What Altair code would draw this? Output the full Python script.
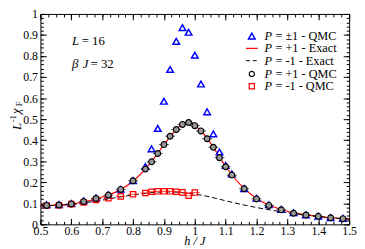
import altair as alt
import pandas as pd

# ---- data ----
h_circ = [0.52, 0.56, 0.60, 0.64, 0.68, 0.72, 0.76, 0.80, 0.84, 0.86, 0.88, 0.90,
          0.92, 0.94, 0.96, 0.98, 1.00, 1.02, 1.04, 1.06, 1.08, 1.10, 1.12, 1.16,
          1.20, 1.24, 1.28, 1.32, 1.36, 1.40, 1.44, 1.48]
chi_p1_qmc = [0.090, 0.092, 0.097, 0.108, 0.123, 0.139, 0.166, 0.207, 0.263, 0.297, 0.337, 0.379,
              0.419, 0.451, 0.475, 0.484, 0.469, 0.444, 0.407, 0.366, 0.317, 0.274, 0.234, 0.169,
              0.121, 0.090, 0.069, 0.053, 0.044, 0.038, 0.031, 0.027]

h_tri = h_circ
chi_all_qmc = [0.093, 0.094, 0.099, 0.112, 0.126, 0.140, 0.167, 0.208, 0.275, 0.359, 0.456, 0.585,
               0.736, 0.870, 0.935, 0.913, 0.804, 0.667, 0.535, 0.430, 0.344, 0.280, 0.240, 0.170,
               0.124, 0.093, 0.071, 0.055, 0.045, 0.039, 0.032, 0.028]

h_sq = [0.52, 0.56, 0.60, 0.64, 0.68, 0.72, 0.76, 0.80, 0.84, 0.86, 0.88, 0.90,
        0.92, 0.94, 0.96, 0.98, 1.00]
chi_m1_qmc = [0.090, 0.091, 0.096, 0.104, 0.116, 0.124, 0.133, 0.143, 0.149, 0.155, 0.157, 0.157,
              0.157, 0.155, 0.152, 0.136, 0.151]

h_exact = [0.50, 0.55, 0.60, 0.65, 0.70, 0.75, 0.80, 0.85, 0.90, 0.93, 0.95, 0.97, 0.98,
           0.99, 1.00, 1.02, 1.05, 1.10, 1.15, 1.20, 1.25, 1.30, 1.35, 1.40, 1.45, 1.50]
chi_p1_exact = [0.087, 0.091, 0.096, 0.110, 0.130, 0.158, 0.205, 0.280, 0.378, 0.435, 0.465, 0.482, 0.485,
                0.480, 0.470, 0.445, 0.388, 0.275, 0.185, 0.123, 0.086, 0.062, 0.047, 0.037, 0.030, 0.025]
chi_m1_exact = [0.087, 0.090, 0.095, 0.104, 0.115, 0.128, 0.140, 0.149, 0.154, 0.154, 0.152, 0.149, 0.147,
                0.145, 0.143, 0.139, 0.130, 0.112, 0.095, 0.080, 0.067, 0.055, 0.046, 0.038, 0.031, 0.025]

x_major = [0.5, 0.6, 0.7, 0.8, 0.9, 1.0, 1.1, 1.2, 1.3, 1.4, 1.5]
y_major = [0.0, 0.1, 0.2, 0.3, 0.4, 0.5, 0.6, 0.7, 0.8, 0.9, 1.0]
x_minor = [round(0.5 + 0.025 * i, 3) for i in range(41)]
y_minor = [round(0.02 * i, 2) for i in range(51)]

legend_labels = ["= ±1 - QMC", "= +1 - Exact", "=  -1 - Exact", "= +1 - QMC", "=  -1 - QMC"]

# ---- chart ----
W, H = 314, 214
FONT = "Liberation Serif"

df_c = pd.DataFrame({"h": h_circ, "chi": chi_p1_qmc})
df_t = pd.DataFrame({"h": h_tri, "chi": chi_all_qmc})
df_s = pd.DataFrame({"h": h_sq, "chi": chi_m1_qmc})
df_e = pd.DataFrame({"h": h_exact, "p": chi_p1_exact, "m": chi_m1_exact})
one = pd.DataFrame({"d": [0]})

xs = alt.Scale(domain=[0.5, 1.5], nice=False, zero=False)
ys = alt.Scale(domain=[0, 1], nice=False, zero=False)


def ax_labels(orient, values, pad):
    return alt.Axis(orient=orient, values=values, ticks=False, domain=False, grid=False,
                    labelFont=FONT, labelFontSize=12, labelColor="black", labelPadding=pad,
                    format="~g", title=None, labelFlush=False, labelOverlap=False)


def ax_ticks(orient, values, size, offset):
    return alt.Axis(orient=orient, values=values, ticks=True, tickSize=size, tickColor="black",
                    tickWidth=1, domain=False, grid=False, labels=False, title=None, offset=offset)


red = alt.Chart(df_e).mark_line(color="#ff0000", strokeWidth=1.2, interpolate="monotone").encode(
    x=alt.X("h:Q", scale=xs, axis=ax_labels("bottom", x_major, 1)),
    y=alt.Y("p:Q", scale=ys, axis=ax_labels("left", y_major, 3)))

dashed = alt.Chart(df_e).mark_line(color="black", strokeWidth=1, strokeDash=[5, 3],
                                   interpolate="monotone").encode(
    x=alt.X("h:Q", scale=xs, axis=ax_ticks("top", x_major, 6, -H)),
    y=alt.Y("m:Q", scale=ys, axis=ax_ticks("right", y_major, 6, -W)))

tri = alt.Chart(df_t).mark_point(shape="triangle-up", size=45, filled=False, color="#0000ff",
                                 strokeWidth=1.5, opacity=1).encode(
    x=alt.X("h:Q", scale=xs, axis=ax_ticks("top", x_minor, 3, -H)),
    y=alt.Y("chi:Q", scale=ys, axis=ax_ticks("right", y_minor, 3, -W)))

sq_err = alt.Chart(df_s).mark_tick(orient="horizontal", size=10, thickness=1, color="#ff0000").encode(
    x=alt.X("h:Q", scale=xs, axis=None), y=alt.Y("chi:Q", scale=ys, axis=None))

sq = alt.Chart(df_s).mark_point(shape="square", size=30, filled=False, color="#ff0000",
                                strokeWidth=1.2, opacity=1).encode(
    x=alt.X("h:Q", scale=xs, axis=ax_ticks("bottom", x_major, 6, -H)),
    y=alt.Y("chi:Q", scale=ys, axis=ax_ticks("left", y_major, 6, -W)))

c_err = alt.Chart(df_c).mark_tick(orient="horizontal", size=10, thickness=1, color="black").encode(
    x=alt.X("h:Q", scale=xs, axis=None), y=alt.Y("chi:Q", scale=ys, axis=None))

circ = alt.Chart(df_c).mark_point(shape="circle", size=35, filled=True, fill="#9a9a9a",
                                  stroke="black", strokeWidth=1.2, opacity=1).encode(
    x=alt.X("h:Q", scale=xs, axis=ax_ticks("bottom", x_minor, 3, -H)),
    y=alt.Y("chi:Q", scale=ys, axis=ax_ticks("left", y_minor, 3, -W)))


def txt(s, x, y, size=13, italic=False, align="left", baseline="alphabetic", angle=0):
    kw = dict(font=FONT, fontSize=size, align=align, baseline=baseline, color="black")
    if italic:
        kw["fontStyle"] = "italic"
    if angle:
        kw["angle"] = angle
    return alt.Chart(one).mark_text(**kw).encode(x=alt.value(x), y=alt.value(y), text=alt.value(s))


notes = [
    txt("L", 32, 32, italic=True), txt("= 16", 42, 32),
    txt("β", 32, 55, italic=True), txt("J", 43, 55, italic=True), txt("= 32", 51, 55),
    txt("h / J", 157, 231, size=12.5, italic=True, align="center", baseline="middle"),
    txt("L", -24, 114.5, italic=True, align="center", baseline="middle", angle=270),
    txt("-1", -28, 106.5, size=9, align="center", baseline="middle", angle=270),
    txt("χ", -25, 99, italic=True, align="center", baseline="middle", angle=270),
    txt("F", -22, 91.5, size=9, align="center", baseline="middle", angle=270),
]

rows_y = [22.5, 35, 47.5, 61, 73.5]
leg = []
for lab, yy in zip(legend_labels, rows_y):
    leg.append(txt("P", 228, yy, size=12.5, italic=True, baseline="middle"))
    leg.append(txt(lab, 239, yy, size=12.5, baseline="middle"))

sym_x = 215
leg += [
    alt.Chart(one).mark_point(shape="triangle-up", size=45, filled=False, color="#0000ff",
                              strokeWidth=1.5, opacity=1).encode(x=alt.value(sym_x), y=alt.value(rows_y[0])),
    alt.Chart(one).mark_rule(color="#ff0000", strokeWidth=1.2).encode(
        x=alt.value(sym_x - 6), x2=alt.value(sym_x + 6), y=alt.value(rows_y[1])),
    alt.Chart(one).mark_rule(color="black", strokeWidth=1, strokeDash=[4, 3]).encode(
        x=alt.value(sym_x - 6), x2=alt.value(sym_x + 6), y=alt.value(rows_y[2])),
    alt.Chart(one).mark_point(shape="circle", size=28, filled=False, color="black",
                              strokeWidth=1.2, opacity=1).encode(x=alt.value(sym_x), y=alt.value(rows_y[3])),
    alt.Chart(one).mark_point(shape="square", size=28, filled=False, color="#ff0000",
                              strokeWidth=1.2, opacity=1).encode(x=alt.value(sym_x), y=alt.value(rows_y[4])),
]

chart = alt.layer(red, dashed, tri, sq_err, sq, c_err, circ, *notes, *leg).resolve_axis(
    x="independent", y="independent"
).properties(
    width=W, height=H,
    padding={"left": 33, "top": 4, "right": 8, "bottom": 22},
    autosize=alt.AutoSizeParams(type="none"),
    background="white",
).configure_view(stroke="black", strokeWidth=1)

chart.save("out.html", embed_options={"renderer": "svg", "actions": False})
